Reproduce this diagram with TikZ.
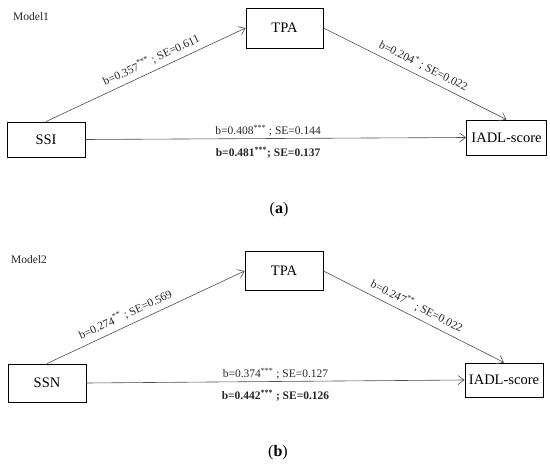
\documentclass[tikz,border=0pt]{standalone}
\usepackage{fontspec}
\setmainfont{Liberation Serif}
\usetikzlibrary{arrows.meta}
\begin{document}
\begin{tikzpicture}[x=1pt, y=-1pt,
    var/.style={draw, line width=0.9pt, minimum width=78pt, minimum height=35pt,
                inner sep=2pt, font=\fontsize{14.5}{17}\selectfont},
    effect/.style={-{Straight Barb[length=6pt,width=9pt]}, line width=0.6pt, draw=black!70},
    coef/.style={font=\fontsize{11.5}{13}\selectfont, text=black!85, inner sep=2pt},
    panel/.style={font=\fontsize{16}{18}\selectfont}
]
\useasboundingbox (0,0) rectangle (550,468);

% Model 1
\node[coef, anchor=west] (mod1) at (11,17) {Model1};
\node[var, minimum width=77pt, minimum height=40pt] (tpa1) at (284.5,28) {TPA};
\node[var] (ssi) at (46,139.5) {SSI};
\node[var, minimum width=80pt] (iadl1) at (506.5,137.5) {IADL-score};

\draw[effect] (ssi.north) -- node[coef, sloped, above=3pt, pos=0.55] {b=0.357\textsuperscript{***} ; SE=0.611} (tpa1.west);
\draw[effect] (tpa1.east) -- node[coef, sloped, above=3pt, pos=0.52] {b=0.204\textsuperscript{*} ; SE=0.022} (iadl1.north);
\draw[effect] (ssi.east) -- node[coef, above, pos=0.48] {b=0.408\textsuperscript{***} ; SE=0.144}
    node[coef, below=6pt, pos=0.48] {\textbf{b=0.481\textsuperscript{***}; SE=0.137}} (iadl1.west);

\node[panel] (capa) at (279,210) {(\textbf{a})};

% Model 2
\node[coef, anchor=west] (mod2) at (9,260) {Model2};
\node[var, minimum height=39pt] (tpa2) at (284,271) {TPA};
\node[var, minimum height=38pt] (ssn) at (47,383) {SSN};
\node[var, minimum height=34pt] (iadl2) at (504,380) {IADL-score};

\draw[effect] (ssn.north) -- node[coef, sloped, above=3pt, pos=0.42] {b=0.274\textsuperscript{**} ; SE=0.569} (tpa2.west);
\draw[effect] (tpa2.east) -- node[coef, sloped, above=3pt, pos=0.49] {b=0.247\textsuperscript{**} ; SE=0.022} (iadl2.north);
\draw[effect] (ssn.east) -- node[coef, above, pos=0.5] {b=0.374\textsuperscript{***} ; SE=0.127}
    node[coef, below=6pt, pos=0.5] {\textbf{b=0.442\textsuperscript{***} ; SE=0.126}} (iadl2.west);

\node[panel] (capb) at (278,453) {(\textbf{b})};
\end{tikzpicture}
\end{document}
